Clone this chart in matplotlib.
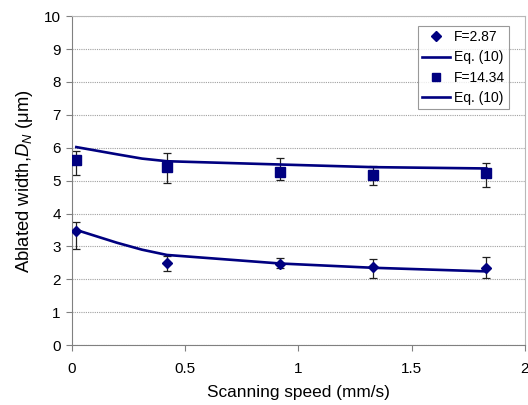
import matplotlib
matplotlib.use("Agg")
import matplotlib.pyplot as plt

plt.rcParams['font.family'] = ['Liberation Sans', 'DejaVu Sans']
plt.rcParams['mathtext.fontset'] = 'custom'
plt.rcParams['mathtext.rm'] = 'Liberation Sans'
plt.rcParams['mathtext.it'] = 'Liberation Sans:italic'

# measured points
speed = [0.02, 0.42, 0.92, 1.33, 1.83]
width_low = [3.47, 2.50, 2.46, 2.38, 2.33]
err_low_lo = [0.55, 0.26, 0.12, 0.33, 0.28]
err_low_hi = [0.28, 0.22, 0.19, 0.23, 0.35]
width_high = [5.64, 5.40, 5.26, 5.17, 5.22]
err_high_lo = [0.47, 0.47, 0.24, 0.31, 0.41]
err_high_hi = [0.27, 0.45, 0.44, 0.28, 0.33]

# Eq. (10) curves
fit_speed = [0.02, 0.2, 0.31, 0.42, 0.92, 1.33, 1.83]
fit_low = [3.50, 3.11, 2.90, 2.74, 2.48, 2.35, 2.24]
fit_high = [6.02, 5.80, 5.67, 5.59, 5.49, 5.41, 5.37]

navy = '#000080'

fig = plt.figure(figsize=(5.28, 4.05), dpi=100)
ax = fig.add_axes([0.136, 0.148, 0.858, 0.812])

ax.errorbar(speed, width_low, yerr=[err_low_lo, err_low_hi], fmt='none',
            ecolor='#202020', elinewidth=0.9, capsize=3, capthick=0.9, zorder=2)
ax.errorbar(speed, width_high, yerr=[err_high_lo, err_high_hi], fmt='none',
            ecolor='#202020', elinewidth=0.9, capsize=3, capthick=0.9, zorder=2)

ax.plot(speed, width_low, 'D', color=navy, markersize=5.5, label='F=2.87', zorder=3)
ax.plot(fit_speed, fit_low, '-', color=navy, lw=1.9, label='Eq. (10)', zorder=3)
ax.plot(speed, width_high, 's', color=navy, markersize=7, label='F=14.34', zorder=3)
ax.plot(fit_speed, fit_high, '-', color=navy, lw=1.9, label='Eq. (10)', zorder=3)

ax.set_xlim(0, 2)
ax.set_ylim(0, 10)
ax.set_xticks([0, 0.5, 1, 1.5, 2])
ax.set_xticklabels(['0', '0.5', '1', '1.5', '2'])
ax.set_yticks(range(0, 11))
ax.tick_params(labelsize=11, direction='out', length=4, color='#808080', pad=8)
ax.tick_params(axis='y', pad=4)

ax.yaxis.grid(True, linestyle=(0, (1, 1)), color='#a0a0a0', lw=0.8)
ax.set_axisbelow(True)
for s in ['left', 'bottom']:
    ax.spines[s].set_color('#808080')
for s in ['top', 'right']:
    ax.spines[s].set_color('#b8b8b8')

ax.set_xlabel('Scanning speed (mm/s)', fontsize=12.4, labelpad=7)
ax.set_ylabel('Ablated width,$D_N$ (μm)', fontsize=13.3, labelpad=6)

leg = ax.legend(loc='upper right', bbox_to_anchor=(0.965, 0.97), fontsize=10,
                frameon=True, fancybox=False, edgecolor='#808080',
                handlelength=2.0, handletextpad=0.3, borderpad=0.3,
                labelspacing=0.45, borderaxespad=0, markerscale=0.85)
leg.get_frame().set_linewidth(0.8)

fig.savefig('out.png', dpi=100)
